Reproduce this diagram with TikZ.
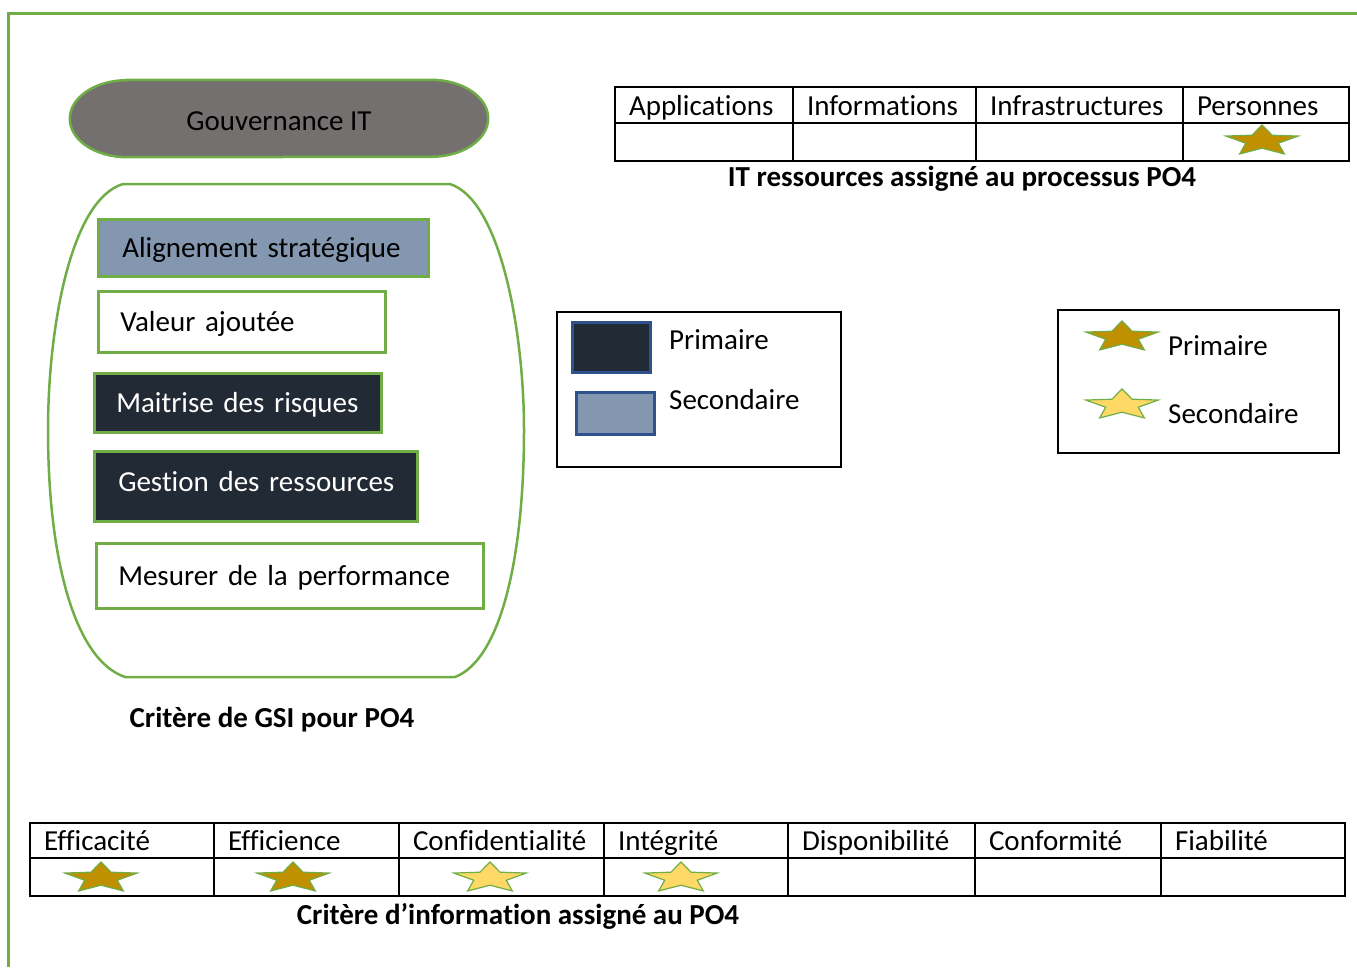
\documentclass[tikz,border=0pt]{standalone}
\usepackage{fontspec}
\setmainfont{Carlito}[Ligatures={NoCommon,NoContextual,NoRequired}, Contextuals={NoAlternate}]
\usetikzlibrary{positioning, shapes.geometric, calc, backgrounds}
\definecolor{gsiVert}{HTML}{70AD47}
\definecolor{gsiGris}{HTML}{757070}
\definecolor{gsiBleu}{HTML}{8497B0}
\definecolor{gsiNuit}{HTML}{222A35}
\definecolor{gsiTrait}{HTML}{2F528F}
\definecolor{orPrim}{HTML}{BF9000}
\definecolor{orSec}{HTML}{FFD966}

\begin{document}
\begin{tikzpicture}[
        x=1pt, y=-1pt,
        font=\fontsize{29}{34}\selectfont,
        critere/.style={draw=gsiVert, line width=2.5pt, anchor=north west,
                        align=left, inner xsep=22pt, inner ysep=0pt,
                        text height=24pt, text depth=4pt},
        sombre/.style={critere, fill=gsiNuit, text=white},
        cellule/.style={draw=black, line width=2pt, anchor=north west,
                        align=left, inner xsep=14pt, inner ysep=0pt,
                        text height=24pt, text depth=4pt},
        legende/.style={draw=black, line width=1.5pt, anchor=north west,
                        inner sep=0pt},
        carre/.style={draw=gsiTrait, line width=2.5pt, anchor=north west,
                      inner sep=0pt},
        libelle/.style={anchor=west, inner sep=0pt},
        titre/.style={font=\fontsize{29}{34}\selectfont\bfseries, inner sep=0pt},
        etoileP/.style={fill=orPrim, draw=gsiVert, line width=1.2pt},
        etoileS/.style={fill=orSec, draw=gsiVert, line width=1.2pt},
        etoile/.pic={
          \path[pic actions, x=38pt, y=16pt] (90:1)
            \foreach \k in {1,...,9}{ -- ({90+36*\k}:{mod(\k,2)==0 ? 1 : 0.45}) }
            -- cycle;
        },
      ]
      \useasboundingbox (0,0) rectangle (1357,967);

      % cadre vert
      \draw[gsiVert, line width=3pt] (1357,13) -- (8,13) -- (8,967);

      % gouvernance
      \node[inner sep=0pt, minimum width=418pt, minimum height=77pt,
            text height=23pt, text depth=0pt] (gouv)
        at (279,118.5) {Gouvernance IT};
      \begin{scope}[on background layer]
        \draw[gsiVert, fill=gsiGris, line width=2.5pt]
          ($(gouv.north west)+(57,0)$) -- ($(gouv.north east)+(-57,0)$)
          arc[start angle=90, end angle=-90, x radius=57pt, y radius=38.5pt]
          -- ($(gouv.south west)+(57,0)$)
          arc[start angle=270, end angle=90, x radius=57pt, y radius=38.5pt]
          -- cycle;
      \end{scope}

      % enveloppe des criteres GSI
      \draw[gsiVert, line width=2.5pt] (123,184) -- (450,184)
        .. controls (500,200) and (524,330) .. (524,430)
        .. controls (524,560) and (500,660) .. (455,677)
        -- (125,677)
        .. controls (75,660) and (48,560) .. (48,430)
        .. controls (48,330) and (70,200) .. (123,184) -- cycle;

      \node[critere, fill=gsiBleu, text width=282pt, minimum height=57pt,
            inner xsep=24pt] (align) at (97,218) {\mbox{Alignement stratégique}};
      \node[critere, fill=white, text width=243pt, minimum height=61pt]
        (valeur) at (97,290) {\mbox{Valeur ajoutée}};
      \node[sombre, text width=243pt, minimum height=59pt]
        (risque) at (93,372) {\mbox{Maitrise des risques}};
      \node[sombre, text width=275pt, minimum height=70pt, inner xsep=24pt,
            text depth=14pt] (ressource) at (93,450) {\mbox{Gestion des ressources}};
      \node[critere, fill=white, text width=343pt, minimum height=65pt]
        (mesure) at (95,542) {\mbox{Mesurer de la performance}};

      \node[titre] (titreGSI) at (272,720) {Critère de GSI pour PO4};

      % ressources IT
      \foreach \xa/\xb/\lab [count=\i] in {614/792/Applications,
          792/975/Informations, 975/1182/Infrastructures, 1182/1348/Personnes} {
        \pgfmathsetmacro\tw{\xb-\xa-28}
        \node[cellule, text width=\tw pt, minimum height=36pt]
          (res\i) at (\xa,86) {\mbox{\lab}};
        \node[cellule, text width=\tw pt, minimum height=38pt]
          (resv\i) at (\xa,122) {};
      }
      \pic[etoileP] at (1262,141) {etoile};
      \node[titre] (titreRes) at (962,179) {IT ressources assigné au processus PO4};

      % legende couleurs
      \node[legende, minimum width=284pt, minimum height=155pt] (leg1) at (556,311) {};
      \node[carre, fill=gsiNuit, minimum width=78pt, minimum height=50pt]
        (carreP) at (571,321) {};
      \node[carre, fill=gsiBleu, minimum width=78pt, minimum height=42pt]
        (carreS) at (575,391) {};
      \node[libelle] (legP1) at (669,340) {Primaire};
      \node[libelle] (legS1) at (669,400) {Secondaire};

      % legende etoiles
      \node[legende, minimum width=281pt, minimum height=143pt] (leg2) at (1057,309) {};
      \pic[etoileP] at (1122,337) {etoile};
      \pic[etoileS] at (1122,405) {etoile};
      \node[libelle] (legP2) at (1168,346) {Primaire};
      \node[libelle] (legS2) at (1168,414) {Secondaire};

      % criteres d'information
      \foreach \xa/\xb/\lab [count=\i] in {29/213/Efficacité, 213/398/Efficience,
          398/603/Confidentialité, 603/787/Intégrité, 787/974/Disponibilité,
          974/1160/Conformité, 1160/1344/Fiabilité} {
        \pgfmathsetmacro\tw{\xb-\xa-28}
        \node[cellule, text width=\tw pt, minimum height=35pt]
          (info\i) at (\xa,822) {\mbox{\lab}};
        \node[cellule, text width=\tw pt, minimum height=38pt]
          (infov\i) at (\xa,857) {};
      }
      \pic[etoileP] at (101,878) {etoile};
      \pic[etoileP] at (293,878) {etoile};
      \pic[etoileS] at (490,878) {etoile};
      \pic[etoileS] at (681,878) {etoile};
      \node[titre] (titreInfo) at (518,916) {Critère d’information assigné au PO4};
    \end{tikzpicture}
\end{document}
